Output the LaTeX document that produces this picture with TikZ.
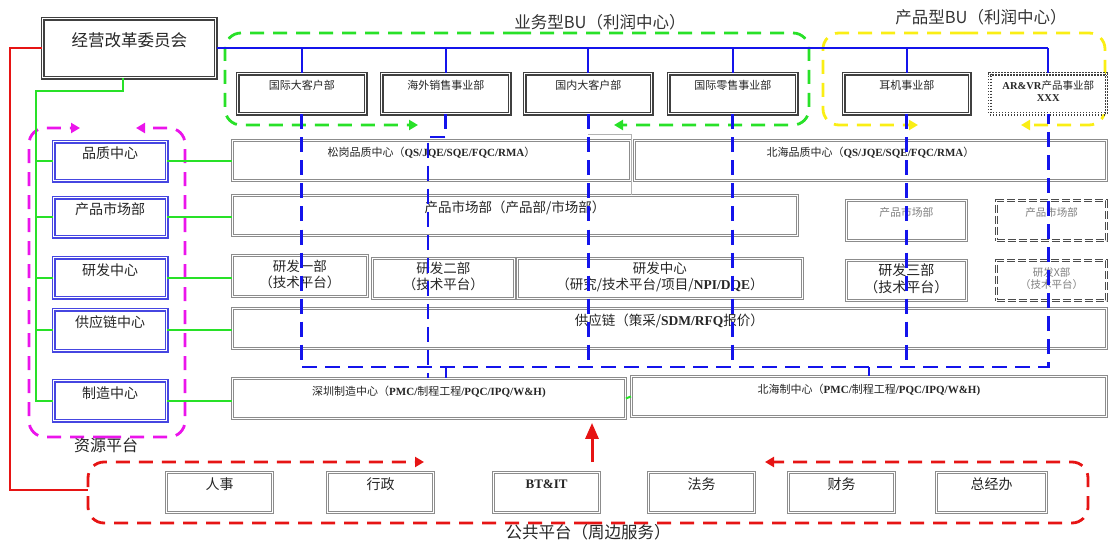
\documentclass[tikz,border=0pt]{standalone}
\usepackage{fontspec}
\setmainfont{Noto Sans CJK SC}
\newfontfamily\lat{Liberation Serif}
\usetikzlibrary{arrows.meta}
\definecolor{lgreen}{RGB}{40,225,40}
\definecolor{lblue}{RGB}{20,20,235}
\definecolor{lmag}{RGB}{235,20,235}
\definecolor{lyel}{RGB}{250,238,20}
\definecolor{lred}{RGB}{230,20,20}
\definecolor{zblue}{RGB}{70,70,225}
\newcommand{\en}[1]{{\lat\bfseries #1}}
\newcommand{\fs}[1]{\fontsize{#1}{\dimexpr#1pt*6/5\relax}\selectfont}

\begin{document}
\begin{tikzpicture}[x=1pt,y=-1pt,
  box/.style 2 args={anchor=north west,inner sep=0pt,align=center,
    minimum width=#1pt,minimum height=#2pt,text depth=17pt,fill=white},
  kbox/.style={draw=black!75,double=white,double distance=0.8pt,line width=1.5pt,text=black!85},
  zbox/.style={draw=zblue,double=white,double distance=1pt,line width=1.4pt,text=black!85,font=\fs{14}},
  gbox/.style={draw=black!45,double=white,double distance=0.9pt,line width=0.9pt,text=black!85},
  dbox/.style={draw=black!70,double=white,double distance=1pt,line width=1.3pt,
    dash pattern=on 8pt off 3pt,text=black!50,font=\fs{10.5}},
  bline/.style={lblue,line width=2.2pt},
  bdash/.style={lblue,line width=2.6pt,dash pattern=on 15pt off 8pt},
  gline/.style={lgreen,line width=2pt},
  grp/.style={line width=2.8pt,dash pattern=on 14pt off 9pt,rounded corners=16pt,
    -{Triangle[length=9pt,width=10pt]}}]
\useasboundingbox (0,0) rectangle (1108,540);

% group frames
\draw[grp,lgreen] (517,33) -- (225,33) -- (225,125) -- (418,125);
\draw[grp,lgreen] (517,33) -- (809,33) -- (809,125) -- (614,125);
\draw[grp,lyel] (964,33) -- (823,33) -- (823,125) -- (918,125);
\draw[grp,lyel] (964,33) -- (1105,33) -- (1105,125) -- (1021,125);
\draw[grp,lmag] (107,437) -- (29,437) -- (29,128) -- (80,128);
\draw[grp,lmag] (107,437) -- (185,437) -- (185,128) -- (136,128);
\draw[grp,lred] (588,523) -- (88,523) -- (88,462) -- (424,462);
\draw[grp,lred] (588,523) -- (1088,523) -- (1088,462) -- (765,462);

\node[font=\fs{16.5},text=black!80] (ywbu) at (600,22) {业务型BU（利润中心）};
\node[font=\fs{16.5},text=black!80] (cpbu) at (981,17) {产品型BU（利润中心）};
\node[font=\fs{16},text=black!85] (zypt) at (106,445) {资源平台};
\node[font=\fs{16.5},text=black!85] (ggpt) at (588,532) {公共平台（周边服务）};

% committee and BU
\node[box={173}{59},kbox,font=\fs{16.5},text depth=18pt] (jg) at (42,18) {经营改革委员会};
\node[box={128}{40},kbox,font=\fs{11}] (bu1) at (237,73) {国际大客户部};
\node[box={128}{40},kbox,font=\fs{11}] (bu2) at (381,73) {海外销售事业部};
\node[box={127}{40},kbox,font=\fs{11}] (bu3) at (524,73) {国内大客户部};
\node[box={128}{40},kbox,font=\fs{11}] (bu4) at (668,73) {国际零售事业部};
\node[box={126}{40},kbox,font=\fs{11}] (bu5) at (843,73) {耳机事业部};
\node[box={117}{40},kbox,dash pattern=on 1.5pt off 1.5pt,font=\fs{10.5},
  text depth=5pt] (bu6) at (989,73) {\en{AR\&VR}产品事业部\\\en{XXX}};

% resource platform
\node[box={113}{39},zbox] (zq) at (53,141) {品质中心};
\node[box={113}{39},zbox] (zs) at (53,197) {产品市场部};
\node[box={113}{40},zbox] (zy) at (53,257) {研发中心};
\node[box={113}{41},zbox] (zg) at (53,309) {供应链中心};
\node[box={113}{40},zbox] (zz) at (53,380) {制造中心};

\node[box={398}{40},gbox,font=\fs{11}] (sgpz) at (232,140)
  {松岗品质中心（\en{QS/JQE/SQE/FQC/RMA}）};
\node[box={472}{40},gbox,font=\fs{11}] (bhpz) at (634,140)
  {北海品质中心（\en{QS/JQE/SQE/FQC/RMA}）};
\node[box={565}{40},gbox,font=\fs{13.5}] (cpsc) at (232,195) {产品市场部（产品部/市场部）};
\node[box={120}{40},gbox,font=\fs{10.8},text=black!50] (cpsc2) at (846,200) {产品市场部};
\node[box={110}{40},dbox] (cpsc3) at (996,200) {产品市场部};
\node[box={135}{41},gbox,font=\fs{13.5},text depth=5pt] (yf1) at (232,255) {研发一部\\（技术平台）};
\node[box={142}{40},gbox,font=\fs{13.5},text depth=5pt] (yf2) at (372,258) {研发二部\\（技术平台）};
\node[box={285}{40},gbox,font=\fs{13.5},text depth=5pt] (yfc) at (517,258)
  {研发中心\\（研究/技术平台/项目/\en{NPI/DQE}）};
\node[box={120}{40},gbox,font=\fs{14},text depth=5pt] (yf3) at (846,260) {研发三部\\（技术平台）};
\node[box={110}{40},dbox,text depth=5pt] (yfx) at (996,260) {研发X部\\（技术平台）};
\node[box={874}{40},gbox,font=\fs{13.5}] (gyl) at (232,308) {供应链（策采/\en{SDM/RFQ}报价）};
\node[box={393}{40},gbox,font=\fs{11},text depth=16pt] (szzz) at (232,378)
  {深圳制造中心（\en{PMC/}制程工程\en{/PQC/IPQ/W\&H)}};
\node[box={475}{40},gbox,font=\fs{11},text depth=16pt] (bhz) at (631,376)
  {北海制中心（\en{PMC/}制程工程\en{/PQC/IPQ/W\&H)}};

% public platform
\node[box={106}{40},gbox,line width=1.2pt,font=\fs{14}] (rs) at (166,472) {人事};
\node[box={106}{40},gbox,line width=1.2pt,font=\fs{14}] (xz) at (327,472) {行政};
\node[box={106}{40},gbox,line width=1.2pt,font=\fs{13}] (bt) at (493,472) {\en{BT\&IT}};
\node[box={106}{40},gbox,line width=1.2pt,font=\fs{14}] (fw) at (648,472) {法务};
\node[box={106}{40},gbox,line width=1.2pt,font=\fs{14}] (cw) at (788,472) {财务};
\node[box={110}{40},gbox,line width=1.2pt,font=\fs{14}] (zjb) at (936,472) {总经办};

% blue lines
\draw[bline] (jg.east) -- (bu6.north |- jg.east);
\foreach \n in {bu1,bu2,bu3,bu4,bu5,bu6}
  \draw[bline] (\n.north |- jg.east) -- (\n.north);
\coordinate (hb) at (0,367);
\coordinate (hw) at (428,137);
\coordinate (bz) at (869,367);
\coordinate (tg) at (631,134);
\draw[line width=0.6pt,black!30] (bu3.south |- tg) -- (tg) -- (tg |- cpsc.north);
\draw[bdash] (bu1.south) -- (bu1.south |- hb) -- (bu6.south |- hb) -- (bu6.south);
\foreach \n in {bu3,bu4,bu5}
  \draw[bdash] (\n.south) -- (\n.south |- hb);
\draw[bdash] (bu2.south) -- (bu2.south |- hw) -- (hw) -- (hw |- szzz.north);
\draw[bline] (bu2.south |- hb) -- (bu2.south |- szzz.north);
\draw[bline] (bz) -- (bz |- bhz.north);

% green lines
\coordinate (gt) at (36,91);
\coordinate (jgs) at ([xshift=-6pt]jg.south);
\draw[gline] (jgs) -- (jgs |- gt) -- (gt) -- (gt |- zz.west) -- (zz.west);
\foreach \n in {zq,zs,zy,zg}
  \draw[gline] (gt |- \n.west) -- (\n.west);
\foreach \a/\b in {zq/sgpz,zs/cpsc,zy/yf1,zg/gyl,zz/szzz}
  \draw[gline] (\a.east) -- (\a.east -| \b.west);
\draw[gline] (szzz.east) -- (bhz.west);

% red lines
\coordinate (rc) at (10,490);
\coordinate (ggl) at (88,490);
\coordinate (ra) at (592,462);
\draw[lred,line width=2pt] (jg.west) -- (jg.west -| rc) -- (rc) -- (ggl);
\draw[lred,line width=3pt,-{Triangle[length=16pt,width=13pt]},shorten >=4pt]
  (ra) -- (ra |- szzz.south);
\end{tikzpicture}
\end{document}
